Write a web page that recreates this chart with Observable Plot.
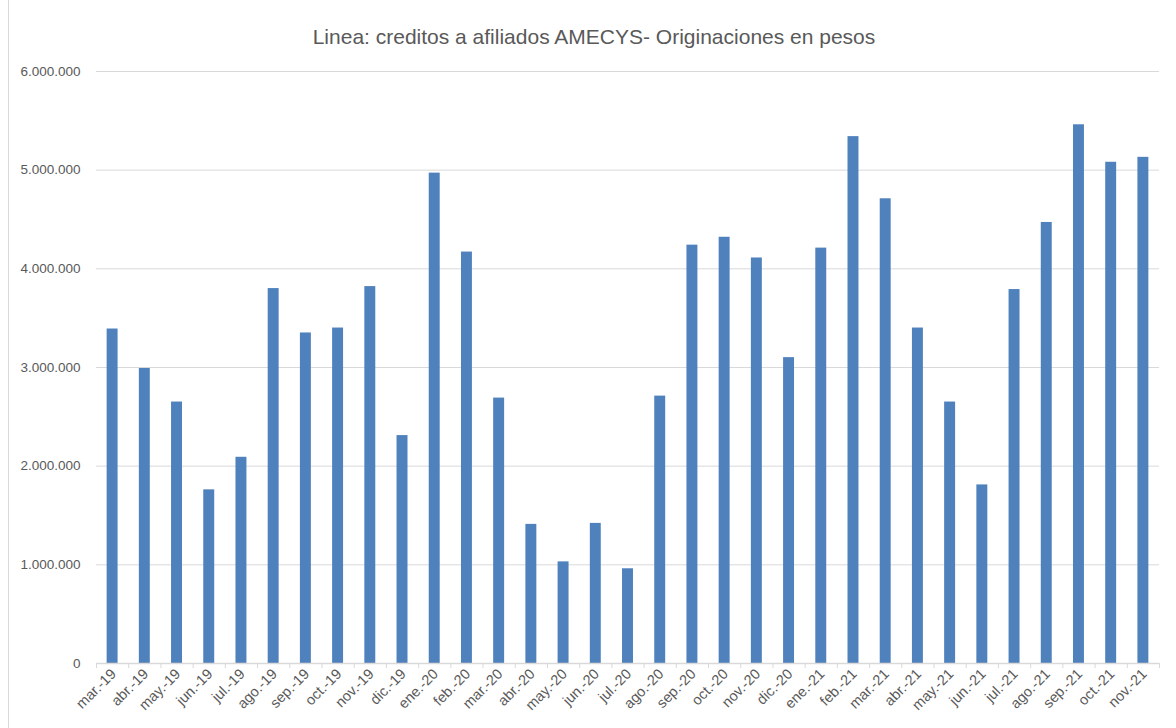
<!DOCTYPE html>
<html>
<head>
<meta charset="utf-8">
<script src="https://cdn.jsdelivr.net/npm/d3@7"></script>
<script src="https://cdn.jsdelivr.net/npm/@observablehq/plot@0.6"></script>
<style>
  html, body { margin: 0; padding: 0; background: #fff; }
  #wrap { position: relative; width: 1176px; height: 728px; overflow: hidden; }
  #border { position: absolute; left: 8px; top: -2px; width: 1200px; height: 740px; border-left: 1px solid #d9d9d9; box-sizing: border-box; pointer-events: none; }
  #title { height: 58px; line-height: 74px; text-align: center; font-family: "Liberation Sans", Arial, sans-serif; font-size: 21px; color: #595959; padding-left: 12px; }
</style>
</head>
<body>
<div id="wrap">
  <div id="border"></div>
  <div id="title">Linea: creditos a afiliados AMECYS- Originaciones en pesos</div>
  <div id="chart"></div>
</div>
<script>
const months = ["mar.-19","abr.-19","may.-19","jun.-19","jul.-19","ago.-19","sep.-19","oct.-19","nov.-19","dic.-19",
  "ene.-20","feb.-20","mar.-20","abr.-20","may.-20","jun.-20","jul.-20","ago.-20","sep.-20","oct.-20","nov.-20","dic.-20",
  "ene.-21","feb.-21","mar.-21","abr.-21","may.-21","jun.-21","jul.-21","ago.-21","sep.-21","oct.-21","nov.-21"];
const values = [3390000, 2990000, 2650000, 1760000, 2090000, 3800000, 3350000, 3400000, 3820000, 2310000,
  4970000, 4170000, 2690000, 1410000, 1030000, 1420000, 960000, 2710000, 4240000, 4320000, 4110000, 3100000,
  4210000, 5340000, 4710000, 3400000, 2650000, 1810000, 3790000, 4470000, 5460000, 5080000, 5130000];
const yTicks = [0, 1000000, 2000000, 3000000, 4000000, 5000000, 6000000];

const data = months.map((m, i) => ({month: m, value: values[i]}));
const locale = d3.formatLocale({decimal: ",", thousands: ".", grouping: [3], currency: ["$", ""]});
const fmt = locale.format(",");

const W = 1176, H = 670, ML = 96, MR = 17, MT = 13, MB = 65;
const step = (W - ML - MR) / months.length;
const font = "Liberation Sans, Arial, sans-serif";

const chart = Plot.plot({
  width: W,
  height: H,
  marginLeft: ML,
  marginRight: MR,
  marginTop: MT,
  marginBottom: MB,
  style: {fontFamily: font, fontSize: "13.5px", color: "#595959", background: "white"},
  x: {domain: months, paddingInner: 0.66, paddingOuter: 0.33, round: false, label: null},
  y: {domain: [0, 6000000], label: null},
  marks: [
    Plot.gridY(yTicks, {stroke: "#d9d9d9", strokeOpacity: 1, strokeWidth: 1}),
    Plot.barY(data, {x: "month", y: "value", fill: "#4f81bd"}),
    Plot.ruleY([0], {stroke: "#d9d9d9", strokeWidth: 1.5}),
    Plot.axisY({ticks: yTicks, tickFormat: fmt, tickSize: 0, tickPadding: 16, fill: "#595959", fontSize: 13.5}),
    Plot.axisX({ticks: months, tickSize: 5, tickFormat: () => "", dx: -step / 2, stroke: "#d9d9d9"}),
    Plot.axisX({ticks: [months[months.length - 1]], tickSize: 5, tickFormat: () => "", dx: step / 2, stroke: "#d9d9d9"}),
    Plot.axisX({ticks: months, tickSize: 0, tickRotate: -45, tickPadding: 8, fill: "#595959", fontSize: 14.5, dx: 1})
  ]
});
document.getElementById("chart").appendChild(chart);
</script>
</body>
</html>
